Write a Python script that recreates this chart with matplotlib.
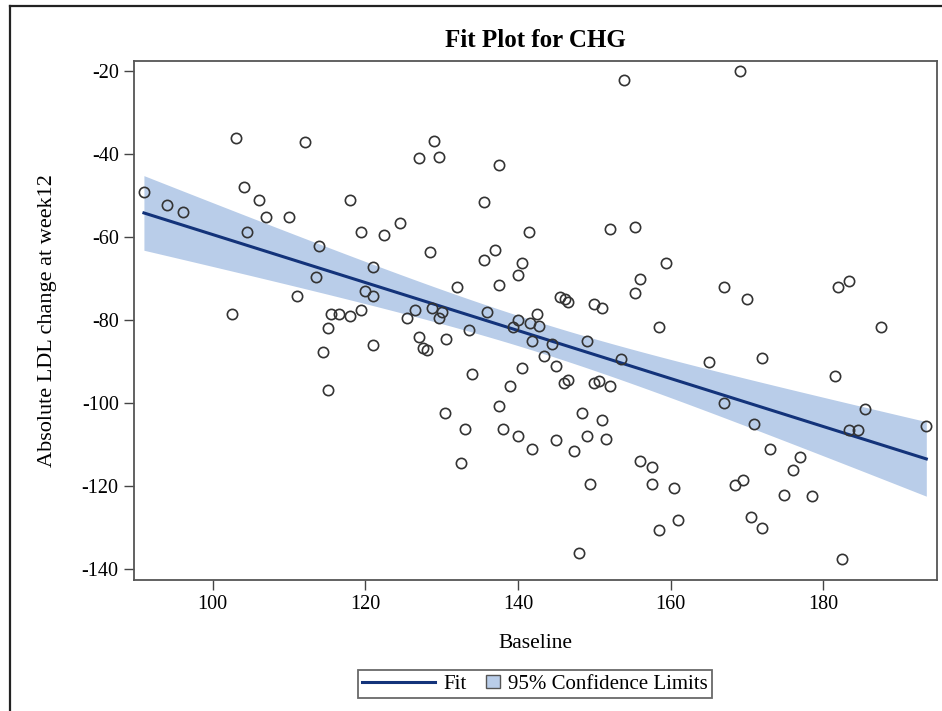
import numpy as np
import matplotlib
matplotlib.use("Agg")
from matplotlib import pyplot as plt
from matplotlib.lines import Line2D
from matplotlib.patches import Patch, Rectangle
from matplotlib.legend_handler import HandlerPatch

# baseline values and absolute LDL change at week 12
baseline = [91.0, 94.0, 96.1, 103.1, 112.1, 104.1, 106.1, 107.0, 110.0, 104.5,
            118.0, 119.5, 122.5, 124.5, 114.0, 121.0, 113.5, 111.0, 120.0, 121.0,
            102.6, 115.5, 116.6, 118.0, 119.5, 115.1, 114.5, 121.0, 115.1, 153.9,
            129.0, 127.0, 129.6, 137.5, 135.5, 141.5, 152.0, 155.4, 128.5, 137.0,
            135.5, 140.5, 140.0, 159.4, 156.0, 155.4, 137.5, 132.0, 145.5, 146.1,
            146.6, 150.0, 151.0, 126.5, 125.5, 128.7, 130.0, 129.6, 136.0, 142.5,
            140.0, 141.6, 142.7, 139.4, 133.6, 158.5, 127.0, 127.5, 128.1, 130.6,
            141.9, 144.5, 149.1, 153.5, 143.4, 145.0, 140.5, 134.0, 139.0, 146.0,
            146.6, 149.9, 150.6, 152.0, 137.5, 130.5, 133.0, 138.0, 140.0, 141.9,
            145.0, 148.4, 151.0, 149.1, 151.5, 147.4, 132.5, 149.5, 156.0, 157.5,
            157.5, 160.4, 158.5, 148.0, 187.5, 165.0, 172.0, 181.5, 167.0, 185.5,
            170.9, 183.4, 184.5, 193.5, 173.0, 177.0, 176.0, 168.5, 169.5, 174.9,
            178.5, 161.0, 170.5, 172.0, 182.5, 169.1, 167.0, 170.0, 181.9, 183.4]
ldl_change = [-49.2, -52.2, -54.1, -36.1, -37.1, -48.0, -51.2, -55.1, -55.1, -58.7,
              -51.2, -58.7, -59.5, -56.6, -62.2, -67.2, -69.7, -74.2, -73.0, -74.2,
              -78.6, -78.6, -78.6, -79.1, -77.5, -82.0, -87.7, -86.1, -97.0, -22.2,
              -37.0, -41.0, -40.7, -42.6, -51.7, -58.7, -58.2, -57.6, -63.7, -63.1,
              -65.5, -66.4, -69.2, -66.4, -70.1, -73.6, -71.6, -72.1, -74.6, -75.0,
              -75.6, -76.2, -77.2, -77.5, -79.5, -77.2, -78.0, -79.5, -78.0, -78.6,
              -80.0, -80.8, -81.5, -81.7, -82.4, -81.6, -84.1, -86.7, -87.2, -84.6,
              -85.1, -85.7, -85.1, -89.5, -88.7, -91.1, -91.6, -93.1, -96.0, -95.1,
              -94.6, -95.1, -94.7, -96.0, -100.7, -102.5, -106.2, -106.2, -108.1, -111.1,
              -109.0, -102.5, -104.1, -108.0, -108.6, -111.7, -114.5, -119.6, -113.9, -115.5,
              -119.6, -120.5, -130.6, -136.1, -81.6, -90.1, -89.2, -93.6, -100.1, -101.6,
              -105.1, -106.5, -106.5, -105.7, -111.1, -113.1, -116.1, -119.7, -118.7, -122.1,
              -122.5, -128.2, -127.6, -130.2, -137.7, -20.1, -72.1, -75.0, -72.1, -70.6]

x_ticks = [100, 120, 140, 160, 180]
y_ticks = [-20, -40, -60, -80, -100, -120, -140]

line_col = '#13337a'
band_col = '#b9cde9'
serif = ['Liberation Serif', 'DejaVu Serif']

x = np.array(baseline)
y = np.array(ldl_change)

# least squares fit and 95% confidence limits of the mean
n = len(x)
slope, icpt = np.polyfit(x, y, 1)
resid = y - (icpt + slope * x)
s = np.sqrt(np.sum(resid ** 2) / (n - 2))
sxx = np.sum((x - x.mean()) ** 2)
xs = np.linspace(x.min(), x.max(), 200)
fit = icpt + slope * xs
half = 1.979 * s * np.sqrt(1.0 / n + (xs - x.mean()) ** 2 / sxx)

plt.rcParams['font.family'] = serif
plt.rcParams['axes.unicode_minus'] = False

fig = plt.figure(figsize=(9.42, 7.11), dpi=100)
ax = fig.add_axes([134 / 942, 1 - 580 / 711, (937 - 134) / 942, (580 - 61) / 711])

ax.fill_between(xs, fit - half, fit + half, color=band_col, lw=0, zorder=1)
ax.plot(xs, fit, color=line_col, lw=2.2, zorder=2)
ax.plot(x, y, linestyle='none', marker='o', markersize=7.4, markerfacecolor='none',
        markeredgecolor='#333333', markeredgewidth=1.2, zorder=3)

ax.set_xlim(89.7, 194.9)
ax.set_ylim(-142.7, -17.6)
ax.set_xticks(x_ticks)
ax.set_yticks(y_ticks)
ax.tick_params(direction='out', length=7, width=1, color='#444444', labelsize=14.5, pad=4)
for sp in ax.spines.values():
    sp.set_color('#555555')
    sp.set_linewidth(1.3)

ax.set_title('Fit Plot for CHG', fontsize=18, fontweight='bold', pad=10)
ax.set_xlabel('Baseline', fontsize=15.5, labelpad=14)
ax.set_ylabel('Absolute LDL change at week12', fontsize=16, labelpad=18)


def square_patch(legend, orig_handle, xdescent, ydescent, width, height, fontsize):
    side = height * 0.95
    return Rectangle((width - side - xdescent, -ydescent + (height - side) / 2), side, side)


handles = [Line2D([], [], color=line_col, lw=2.2),
           Patch(facecolor=band_col, edgecolor='#555555', linewidth=1)]
leg = fig.legend(handles, ['Fit', '95% Confidence Limits'], loc='center',
                 bbox_to_anchor=(535 / 942, 1 - 684 / 711), ncol=2, fontsize=15,
                 frameon=True, fancybox=False, handlelength=3.5, handletextpad=0.4,
                 columnspacing=-1.9, borderpad=0.2, borderaxespad=0,
                 handler_map={Patch: HandlerPatch(patch_func=square_patch)})
leg.get_frame().set_edgecolor('#444444')
leg.get_frame().set_linewidth(1.3)

# border of the screenshot on the left and top
fig.add_artist(Line2D([10 / 942, 10 / 942], [0, 1 - 6 / 711], color='#222222', lw=1.6))
fig.add_artist(Line2D([10 / 942, 1], [1 - 6 / 711, 1 - 6 / 711], color='#222222', lw=1.6))

fig.savefig('out.png', dpi=100)
